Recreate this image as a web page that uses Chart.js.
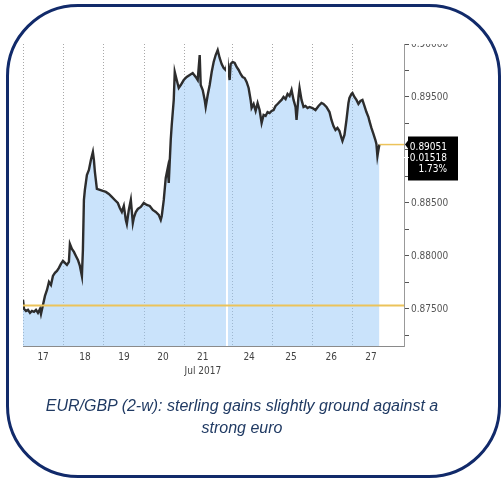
<!DOCTYPE html>
<html><head><meta charset="utf-8">
<script src="https://cdn.jsdelivr.net/npm/chart.js@4.4.1/dist/chart.umd.min.js"></script>
<style>
html,body{margin:0;padding:0;background:#fff;}
#wrap{position:relative;width:503px;height:481px;overflow:hidden;background:#fff;}
#frame{position:absolute;left:6px;top:4px;width:489px;height:468px;border:3px solid #112a6a;border-radius:72px;}
#c{position:absolute;left:0;top:0;}
#cap{position:absolute;left:0;top:395px;width:484px;text-align:center;font-family:'Liberation Sans',Arial,sans-serif;font-style:italic;font-size:16px;line-height:22px;color:#203a63;}
</style></head>
<body><div id="wrap"><div id="frame"></div><canvas id="c" width="503" height="481"></canvas>
<div id="cap">EUR/GBP (2-w): sterling gains slightly ground against a<br>strong euro</div></div>
<script>
// time in trading days since Jul 17 (x) and EUR/GBP rate (y)
const timeDays = [0.000,0.025,0.074,0.124,0.174,0.223,0.273,0.323,0.372,0.422,0.447,0.496,0.546,0.596,0.645,0.695,0.744,0.794,0.844,0.893,0.943,0.993,1.042,1.092,1.141,1.166,1.216,1.266,1.315,1.365,1.414,1.464,1.489,1.514,1.538,1.588,1.638,1.687,1.737,1.762,1.787,1.836,1.911,1.985,2.060,2.134,2.208,2.283,2.357,2.407,2.457,2.506,2.556,2.581,2.630,2.680,2.730,2.754,2.804,2.854,2.928,3.002,3.077,3.151,3.226,3.300,3.375,3.424,3.449,3.499,3.548,3.598,3.623,3.672,3.697,3.747,3.772,3.821,3.871,3.921,3.995,4.069,4.144,4.218,4.293,4.342,4.392,4.417,4.467,4.516,4.541,4.591,4.640,4.690,4.739,4.789,4.839,4.888,4.938,4.988,5.037,5.087,5.136,5.161,5.211,5.261,5.310,5.360,5.409,5.459,5.509,5.558,5.608,5.658,5.682,5.732,5.782,5.831,5.881,5.931,5.980,6.030,6.079,6.129,6.179,6.228,6.278,6.328,6.377,6.427,6.476,6.526,6.576,6.625,6.675,6.725,6.774,6.799,6.849,6.873,6.923,6.973,7.022,7.072,7.122,7.196,7.270,7.345,7.419,7.469,7.543,7.618,7.667,7.717,7.767,7.816,7.866,7.916,7.940,7.990,8.040,8.089,8.114,8.164,8.189,8.238,8.288,8.337,8.387,8.437,8.486,8.536,8.586,8.610,8.660,8.710,8.759,8.784,8.809,8.834,8.859];
const eurgbp = [0.87585,0.87500,0.87481,0.87491,0.87462,0.87481,0.87472,0.87491,0.87462,0.87500,0.87453,0.87538,0.87623,0.87679,0.87755,0.87726,0.87811,0.87840,0.87858,0.87887,0.87925,0.87953,0.87934,0.87915,0.87943,0.88113,0.88066,0.88038,0.88000,0.87962,0.87906,0.87811,0.88057,0.88528,0.88623,0.88764,0.88811,0.88906,0.88981,0.88906,0.88792,0.88632,0.88623,0.88613,0.88604,0.88585,0.88557,0.88528,0.88500,0.88453,0.88415,0.88472,0.88340,0.88302,0.88434,0.88528,0.88311,0.88358,0.88415,0.88443,0.88462,0.88500,0.88481,0.88472,0.88434,0.88415,0.88387,0.88340,0.88377,0.88528,0.88736,0.88830,0.88689,0.89094,0.89236,0.89472,0.89736,0.89660,0.89585,0.89613,0.89660,0.89689,0.89708,0.89726,0.89689,0.89660,0.89896,0.89613,0.89566,0.89472,0.89406,0.89519,0.89613,0.89736,0.89830,0.89896,0.89943,0.89868,0.89811,0.89774,0.89755,0.89821,0.89660,0.89811,0.89830,0.89821,0.89783,0.89755,0.89717,0.89689,0.89679,0.89642,0.89585,0.89472,0.89396,0.89434,0.89368,0.89443,0.89377,0.89255,0.89330,0.89321,0.89358,0.89349,0.89368,0.89377,0.89415,0.89434,0.89453,0.89472,0.89500,0.89481,0.89528,0.89509,0.89566,0.89472,0.89406,0.89283,0.89509,0.89585,0.89472,0.89406,0.89415,0.89396,0.89406,0.89396,0.89377,0.89415,0.89443,0.89434,0.89406,0.89358,0.89283,0.89226,0.89189,0.89208,0.89179,0.89113,0.89085,0.89142,0.89283,0.89443,0.89491,0.89528,0.89538,0.89500,0.89472,0.89434,0.89462,0.89472,0.89415,0.89358,0.89311,0.89274,0.89208,0.89151,0.89094,0.89057,0.88943,0.89000,0.89051];
const dayLabels = ['17','18','19','20',['21','Jul 2017'],'24','25','26','27'];
const dayLabelPos = [0.5,1.54,2.51,3.48,4.47,5.62,6.66,7.66,8.65];
const dayStarts = [0,1,2,3,4,5.195,6.19,7.18,8.18];
const weekendBreak = 5.07;
const yMajorTicks = [0.875,0.88,0.885,0.89,0.895,0.9];
const yMinorTicks = [0.8725,0.8775,0.8825,0.8875,0.8925,0.8975];
const lastPrice = 0.89051, netChange = 0.01518, pctChange = 1.73;
const openPrice = lastPrice - netChange;

const NARROW = "'Liberation Sans Narrow','DejaVu Sans Condensed',sans-serif";

const overlay = {
  id: 'overlay',
  beforeDatasetsDraw(chart) {
    const {ctx, chartArea: a, scales: {x}} = chart;
    ctx.save();
    ctx.strokeStyle = '#a8a8a8'; ctx.lineWidth = 1; ctx.setLineDash([1, 2]);
    dayStarts.forEach(d => {
      const px = Math.round(x.getPixelForValue(d)) + 0.5;
      ctx.beginPath(); ctx.moveTo(px, a.top); ctx.lineTo(px, a.bottom); ctx.stroke();
    });
    ctx.restore();
  },
  afterDatasetsDraw(chart) {
    const {ctx, chartArea: a, scales: {x, y}} = chart;
    ctx.save();
    const wx = x.getPixelForValue(weekendBreak);
    ctx.strokeStyle = '#ffffff'; ctx.lineWidth = 2;
    ctx.beginPath(); ctx.moveTo(wx, a.top); ctx.lineTo(wx, a.bottom); ctx.stroke();
    ctx.strokeStyle = '#ecc35a'; ctx.lineWidth = 2;
    const oy = y.getPixelForValue(openPrice);
    ctx.beginPath(); ctx.moveTo(a.left, oy); ctx.lineTo(a.right, oy); ctx.stroke();
    const ly = y.getPixelForValue(lastPrice);
    const lx = x.getPixelForValue(timeDays[timeDays.length - 1]);
    ctx.lineWidth = 1.5;
    ctx.beginPath(); ctx.moveTo(lx, ly); ctx.lineTo(a.right, ly); ctx.stroke();
    ctx.restore();
  },
  afterDraw(chart) {
    const {ctx, chartArea: a, scales: {y}} = chart;
    const ly = y.getPixelForValue(lastPrice);
    ctx.save();
    ctx.fillStyle = '#ffffff';
    ctx.fillRect(a.right + 1, a.top - 12, 60, 12);
    ctx.fillStyle = '#000000';
    ctx.beginPath();
    ctx.moveTo(a.right + 1, ly);
    ctx.lineTo(a.right + 4, ly - 4);
    ctx.lineTo(a.right + 4, ly - 8);
    ctx.lineTo(a.right + 54, ly - 8);
    ctx.lineTo(a.right + 54, ly + 36);
    ctx.lineTo(a.right + 4, ly + 36);
    ctx.lineTo(a.right + 4, ly + 4);
    ctx.closePath(); ctx.fill();
    ctx.fillStyle = '#ffffff';
    ctx.font = '10px ' + NARROW;
    ctx.textAlign = 'right'; ctx.textBaseline = 'middle';
    const tx = a.right + 43;
    ctx.fillText(lastPrice.toFixed(5), tx, ly + 3);
    ctx.fillText('+' + netChange.toFixed(5), tx, ly + 14);
    ctx.fillText(pctChange.toFixed(2) + '%', tx, ly + 25);
    ctx.restore();
  }
};

new Chart(document.getElementById('c'), {
  type: 'line',
  data: {
    datasets: [{
      data: timeDays.map((t, i) => ({x: t, y: eurgbp[i]})),
      borderColor: '#2d2d2d',
      borderWidth: 2.4,
      backgroundColor: 'rgba(150,199,247,0.5)',
      fill: 'start',
      pointRadius: 0,
      tension: 0
    }]
  },
  options: {
    responsive: false,
    devicePixelRatio: 1,
    animation: false,
    events: [],
    layout: {padding: {left: 23, top: 44, right: 0, bottom: 95}},
    plugins: {legend: {display: false}, tooltip: {enabled: false}},
    scales: {
      x: {
        type: 'linear', min: 0, max: 9.47,
        afterBuildTicks: s => { s.ticks = dayLabelPos.map(v => ({value: v})); },
        afterFit: s => { s.height = 40; },
        ticks: {
          autoSkip: false, maxRotation: 0, padding: 4,
          callback: (v, i) => dayLabels[i],
          color: '#444', font: {family: NARROW, size: 10, lineHeight: 1.4}
        },
        grid: {display: true, drawOnChartArea: false, drawTicks: false, color: 'rgba(0,0,0,0)'},
        border: {display: true, color: '#8a8a8a', width: 1}
      },
      y: {
        position: 'right', min: 0.8715, max: 0.9,
        afterBuildTicks: s => {
          s.ticks = yMajorTicks.concat(yMinorTicks).sort((p, q) => p - q).map(v => ({value: v, major: yMajorTicks.includes(v)}));
        },
        afterFit: s => { s.width = 99; },
        ticks: {
          autoSkip: false, padding: 2,
          callback: (v) => yMajorTicks.some(m => Math.abs(m - v) < 1e-9) ? v.toFixed(5) : '',
          color: '#555', font: {family: NARROW, size: 10}
        },
        grid: {display: true, drawOnChartArea: false, drawTicks: true, tickLength: 5, color: '#555'},
        border: {display: true, color: '#999', width: 1}
      }
    }
  },
  plugins: [overlay]
});
</script></body></html>
